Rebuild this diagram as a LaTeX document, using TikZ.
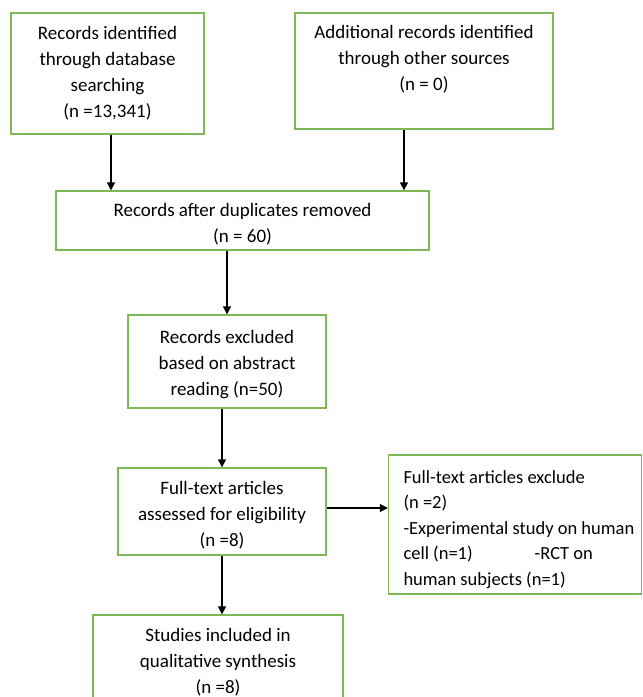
\documentclass[tikz,border=0pt]{standalone}
\usepackage{fontspec}
\setmainfont{Carlito}
\usetikzlibrary{arrows.meta,positioning}
\definecolor{boxgreen}{RGB}{125,185,85}
\newcommand{\firstline}{\rule{0pt}{20pt}}
\tikzset{
	recbox/.style={draw=boxgreen, line width=1.3pt, align=center, inner sep=0pt,
		font=\fontsize{19}{26}\selectfont},
	flowarrow/.style={-{Triangle[length=8pt,width=8pt]}, line width=1.3pt}
}
\begin{document}
\begin{tikzpicture}[x=1pt,y=-1pt]
	\useasboundingbox (0,0) rectangle (643,697);
	% identification
	\node[recbox, minimum width=193pt, minimum height=121pt] (dbsearch) at (107.5,73.5)
		{\firstline Records identified\\through database\\searching\\(n =13,341)\\[-15pt]\mbox{}};
	\node[recbox, minimum width=258pt, minimum height=116pt] (othersrc) at (424,71)
		{\firstline Additional records identified\\through other sources\\(n = 0)\\[7pt]\mbox{}};
	% screening
	\node[recbox, minimum width=373pt, minimum height=59pt] (dupes) at (242.5,220.5)
		{\firstline Records after duplicates removed\\(n = 60)};
	\node[recbox, minimum width=198pt, minimum height=93pt] (abstract) at (227,361.5)
		{\firstline Records excluded\\based on abstract\\reading (n=50)};
	% eligibility
	\node[recbox, minimum width=208pt, minimum height=87pt] (fulltext) at (222,511.5)
		{\firstline Full-text articles\\assessed for eligibility\\(n =8)};
	\node[recbox, font=\fontsize{18.5}{25.5}\selectfont, align=flush left, text width=223pt, inner xsep=15pt, minimum height=139pt] (excluded) at (515,524.5)
		{\rule{0pt}{23pt}Full-text articles exclude\\(n =2)\\\mbox{-Experimental study on human}\\\mbox{cell (n=1)\hspace{62pt}-RCT on}\\human subjects (n=1)};
	% included
	\node[recbox, minimum width=250pt, minimum height=94pt] (included) at (218,662)
		{\firstline Studies included in\\qualitative synthesis\\(n =8)\\[-17pt]\mbox{}};
	% arrows
	\draw[flowarrow] ([xshift=3.5pt]dbsearch.south) -- ([xshift=3.5pt]dbsearch.south |- dupes.north);
	\draw[flowarrow] ([xshift=-20pt]othersrc.south) -- ([xshift=-20pt]othersrc.south |- dupes.north);
	\draw[flowarrow] (dupes.south -| abstract.north) -- (abstract.north);
	\draw[flowarrow] (abstract.south -| fulltext.north) -- (fulltext.north);
	\draw[flowarrow] ([yshift=3.5pt]fulltext.east) -- ([yshift=3.5pt]fulltext.east -| excluded.west);
	\draw[flowarrow] (fulltext.south) -- (fulltext.south |- included.north);
\end{tikzpicture}
\end{document}
